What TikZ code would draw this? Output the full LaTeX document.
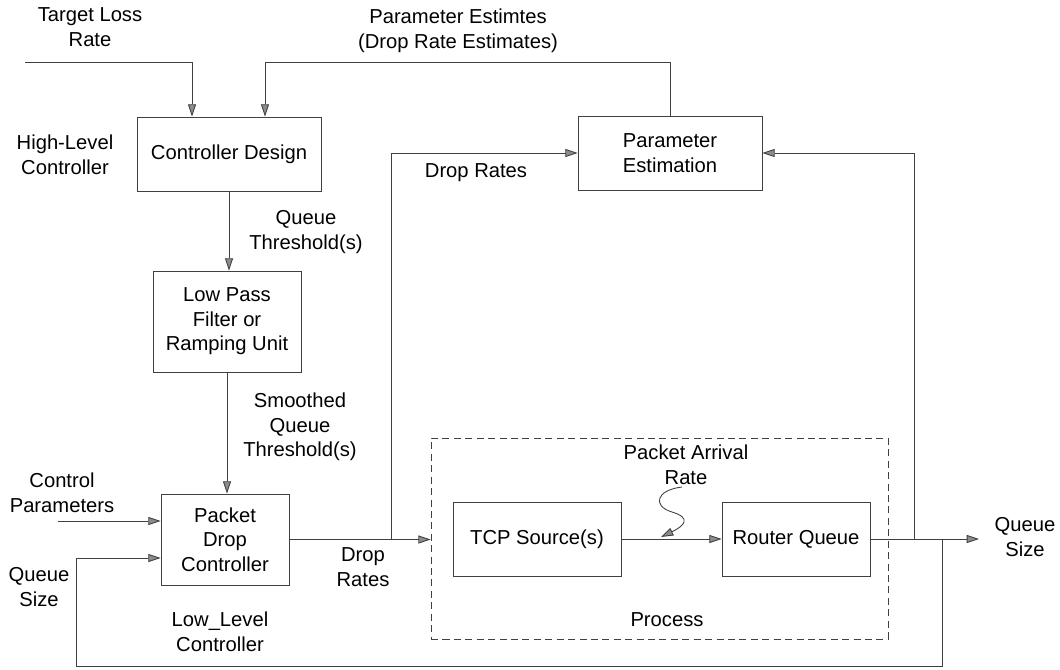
\documentclass[tikz,border=0pt]{standalone}
\usepackage{fontspec}
\setmainfont{Liberation Sans}
\usepackage{tikz}
\usetikzlibrary{positioning,arrows.meta}

\begin{document}
\begin{tikzpicture}[
    x=0.02cm, y=-0.02cm,
    block/.style={draw=black!75, line width=0.5pt, align=center, inner sep=2pt,
                  minimum height=1.48cm},
    lbl/.style={align=center, inner sep=0pt},
    arr/.style={draw=black!75, line width=0.5pt,
                -{Triangle[length=7pt,width=4.6pt,fill=black!45]}},
    font=\fontsize{11.5}{14}\selectfont
]
\useasboundingbox (0,0) rectangle (1060,669);

% blocks
\node[block, minimum width=3.68cm] (cd) at (229,154) {Controller Design};
\node[block, minimum width=2.96cm, minimum height=2.02cm] (lpf) at (227,321.5) {Low Pass\\Filter or\\Ramping Unit};
\node[block, minimum width=2.56cm, minimum height=1.82cm] (pdc) at (225,539.5) {Packet\\Drop\\Controller};
\node[block, minimum width=3.68cm] (pe) at (670,153) {Parameter\\Estimation};
\node[draw=black!75, dash pattern=on 4pt off 2.5pt, line width=0.5pt, minimum width=9.14cm,
      minimum height=4.02cm, inner sep=0pt] (proc) at (659.5,538.5) {};
\node[block, minimum width=3.36cm] (tcp) at (537,539) {TCP Source(s)};
\node[block, minimum width=2.96cm] (rq) at (796,539) {Router Queue};

% labels
\node[lbl] (ttl) at (90,27) {Target Loss\\Rate};
\node[lbl] (tpe) at (458,31) {Parameter Estimtes\\(Drop Rate Estimates)};
\node[lbl] (thl) at (65,155) {High-Level\\Controller};
\node[lbl] (tqt) at (306,232) {Queue\\Threshold(s)};
\node[lbl] (tsq) at (300,427) {Smoothed\\Queue\\Threshold(s)};
\node[lbl] (tdr1) at (476,173) {Drop Rates};
\node[lbl] (tcp1) at (62,493) {Control\\Parameters};
\node[lbl] (tqs1) at (39,587) {Queue\\Size};
\node[lbl] (tdr2) at (363,567) {Drop\\Rates};
\node[lbl] (tll) at (220,632) {Low\_Level\\Controller};
\node[lbl] (tpa) at (686,465) {Packet Arrival\\Rate};
\node[lbl] (tpr) at (667,620) {Process};
\node[lbl] (tqs2) at (1025,537) {Queue\\Size};

% points
\coordinate (tl0) at (25,62);
\coordinate (cp0) at (58,521);
\coordinate (j1) at (391,539);
\coordinate (j2) at (914,539);
\coordinate (j3) at (942,539);
\coordinate (fbl) at (76,666);
\coordinate (qout) at (979,539);
\coordinate (sq0) at (682,487);
\coordinate (sq1) at (661,537);

% connectors
\draw[arr] (tl0) -| ([xshift=-0.74cm]cd.north);
\draw[arr] (pe.north) |- ([xshift=0.72cm]cd.north |- tl0) -- ([xshift=0.72cm]cd.north);
\draw[arr] (cd) -- (cd |- lpf.north);
\draw[arr] (lpf) -- (lpf |- pdc.north);
\draw[arr] (cp0) -- (cp0 -| pdc.west);
\draw[arr] (pdc.east) -- (proc.west |- pdc.east);
\draw[arr] (j1) |- (pe.west);
\draw[arr] (tcp) -- (rq);
\draw[arr] (rq.east) -- (qout);
\draw[arr] (j2) |- (pe.east);
\draw[arr] (j3) |- (fbl) |- ([yshift=-0.37cm]pdc.west);
\draw[arr] (sq0) .. controls (656,490) and (652,506) .. (672,512)
                 .. controls (692,518) and (684,526) .. (sq1);
\end{tikzpicture}
\end{document}
